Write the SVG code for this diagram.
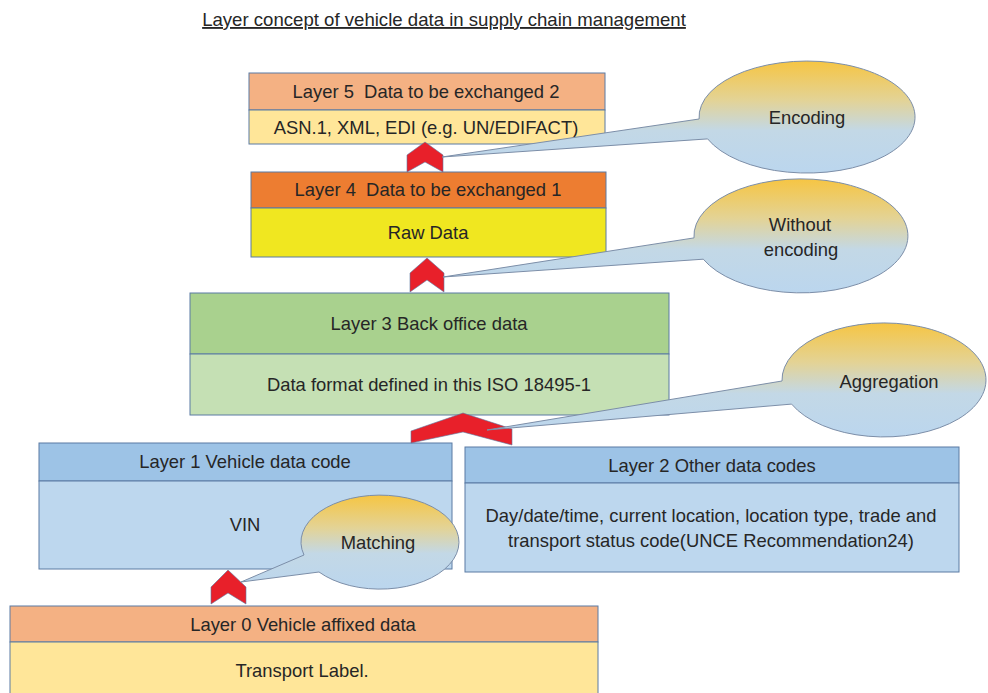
<svg xmlns="http://www.w3.org/2000/svg" width="988" height="693" viewBox="0 0 988 693">
<defs>
<linearGradient id="callGrad" x1="0" y1="0" x2="0" y2="1">
<stop offset="0" stop-color="#F6C543"/>
<stop offset="0.35" stop-color="#E3D396"/>
<stop offset="0.62" stop-color="#C3D8E6"/>
<stop offset="1" stop-color="#BBD6EE"/>
</linearGradient>
<style>
text{font-family:"Liberation Sans","DejaVu Sans",sans-serif;font-size:18.4px;fill:#262626;text-anchor:middle;white-space:pre}
.box{stroke:#5B7BA3;stroke-width:1}
.h5{fill:#F4B183}.b5{fill:#FFE699}
.h4{fill:#ED7D31}.b4{fill:#F0E720}
.h3{fill:#A9D18E}.b3{fill:#C5E0B4}
.h1{fill:#9DC3E6}.b1{fill:#BDD7EE}
.chev{fill:#E8202A;stroke:#5B7BA3;stroke-width:0.6}
.call{fill:url(#callGrad);stroke:#7C8EA8;stroke-width:1}
.title{font-size:18.6px;text-decoration:underline}
</style>
</defs>
<rect width="988" height="693" fill="#FFFFFF"/>
<text class="title" x="444" y="26">Layer concept of vehicle data in supply chain management</text>

<g id="layer5">
<rect class="box h5" x="249" y="73" width="356" height="37"/>
<rect class="box b5" x="249" y="110" width="356" height="34"/>
<text x="426" y="98" xml:space="preserve">Layer 5  Data to be exchanged 2</text>
<text x="426" y="134">ASN.1, XML, EDI (e.g. UN/EDIFACT)</text>
</g>
<g id="layer4">
<rect class="box h4" x="251" y="172" width="355" height="36"/>
<rect class="box b4" x="251" y="208" width="355" height="49"/>
<text x="428" y="196" xml:space="preserve">Layer 4  Data to be exchanged 1</text>
<text x="428" y="239">Raw Data</text>
</g>
<g id="layer3">
<rect class="box h3" x="190" y="293" width="479" height="61"/>
<rect class="box b3" x="190" y="354" width="479" height="61"/>
<text x="429" y="330">Layer 3 Back office data</text>
<text x="429" y="391">Data format defined in this ISO 18495-1</text>
</g>
<g id="layer1">
<rect class="box h1" x="39" y="443" width="413" height="38"/>
<rect class="box b1" x="39" y="481" width="413" height="88"/>
<text x="245" y="468">Layer 1 Vehicle data code</text>
<text x="245" y="531">VIN</text>
</g>
<g id="layer2">
<rect class="box h1" x="465" y="447" width="494" height="36"/>
<rect class="box b1" x="465" y="483" width="494" height="89"/>
<text x="712" y="472">Layer 2 Other data codes</text>
<text x="711" y="522">Day/date/time, current location, location type, trade and</text>
<text x="711" y="547">transport status code(UNCE Recommendation24)</text>
</g>
<g id="layer0">
<rect class="box h5" x="10" y="606" width="588" height="36"/>
<rect class="box b5" x="10" y="642" width="588" height="60"/>
<text x="303" y="631">Layer 0 Vehicle affixed data</text>
<text x="302" y="677">Transport Label.</text>
</g>

<g id="connectors">
<polygon class="chev" points="407,172 407,155 425,142 443,155 443,172 425,162"/>
<polygon class="chev" points="410,292 410,273 427,258 444,273 444,292 427,280"/>
<polygon class="chev" points="411,443 411,431 463,413 512,429 512,445 463,432"/>
<polygon class="chev" points="211,604 211,587 228,570 246,587 246,604 228,593"/>
</g>

<g id="callout-encoding">
<path class="call" d="M699.1,119 A108,56 0 1 1 707.6,138.9 L442,157 Z"/>
<text x="807" y="124">Encoding</text>
</g>
<g id="callout-without-encoding">
<path class="call" d="M694,237.9 A107,57 0 1 1 703.3,259.2 L443,277 Z"/>
<text x="800" y="231">Without</text>
<text x="801" y="256">encoding</text>
</g>
<g id="callout-aggregation">
<path class="call" d="M782,381 A102,57 0 1 1 791.6,404.1 L487,430 Z"/>
<text x="889" y="388">Aggregation</text>
</g>
<g id="callout-matching">
<path class="call" d="M304,555 A79,47 0 1 1 319,572 L241,582 Z"/>
<text x="378" y="549">Matching</text>
</g>
</svg>
